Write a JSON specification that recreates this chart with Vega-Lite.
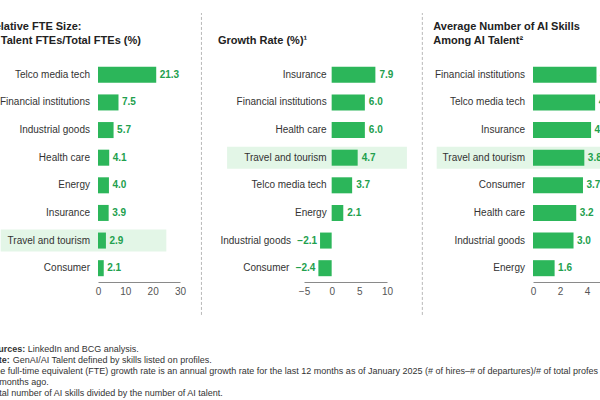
{
  "$schema": "https://vega.github.io/schema/vega-lite/v6.json",
  "padding": {"left": -14, "top": 12, "right": 0, "bottom": 0},
  "datasets": {
    "fte": [
      {"sector": "Telco media tech", "value": 21.3},
      {"sector": "Financial institutions", "value": 7.5},
      {"sector": "Industrial goods", "value": 5.7},
      {"sector": "Health care", "value": 4.1},
      {"sector": "Energy", "value": 4.0},
      {"sector": "Insurance", "value": 3.9},
      {"sector": "Travel and tourism", "value": 2.9},
      {"sector": "Consumer", "value": 2.1}
    ],
    "growth": [
      {"sector": "Insurance", "value": 7.9},
      {"sector": "Financial institutions", "value": 6.0},
      {"sector": "Health care", "value": 6.0},
      {"sector": "Travel and tourism", "value": 4.7},
      {"sector": "Telco media tech", "value": 3.7},
      {"sector": "Energy", "value": 2.1},
      {"sector": "Industrial goods", "value": -2.1},
      {"sector": "Consumer", "value": -2.4}
    ],
    "skills": [
      {"sector": "Financial institutions", "value": 4.7},
      {"sector": "Telco media tech", "value": 4.6},
      {"sector": "Insurance", "value": 4.3},
      {"sector": "Travel and tourism", "value": 3.8},
      {"sector": "Consumer", "value": 3.7},
      {"sector": "Health care", "value": 3.2},
      {"sector": "Industrial goods", "value": 3.0},
      {"sector": "Energy", "value": 1.6}
    ],
    "notes": [
      {"line": 1, "bold": "Sources:", "rest": "LinkedIn and BCG analysis."},
      {"line": 2, "bold": "Note:", "rest": "GenAI/AI Talent defined by skills listed on profiles."},
      {"line": 3, "rest": "¹The full-time equivalent (FTE) growth rate is an annual growth rate for the last 12 months as of January 2025 (# of hires–# of departures)/# of total professionals"},
      {"line": 4, "rest": "12 months ago."},
      {"line": 5, "rest": "²Total number of AI skills divided by the number of AI talent."}
    ]
  },
  "vconcat": [
    {
      "hconcat": [
        {
          "width": 82, "height": 221,
          "title": {"text": ["Relative FTE Size:", "AI Talent FTEs/Total FTEs (%)"], "dx": -111.3},
          "data": {"name": "fte"},
          "encoding": {
            "y": {"field": "sector", "type": "nominal", "axis": null,
                  "scale": {"domain": ["Telco media tech", "Financial institutions", "Industrial goods", "Health care", "Energy", "Insurance", "Travel and tourism", "Consumer"], "paddingInner": 0, "paddingOuter": 0}},
            "x": {"field": "value", "type": "quantitative", "scale": {"domain": [0, 30], "nice": false}, "axis": {"values": [0, 10, 20, 30], "title": null, "labelOverlap": false, "labelFlush": false}}
          },
          "layer": [
            {"transform": [{"filter": "datum.sector === 'Travel and tourism'"}],
             "mark": {"type": "bar", "color": "#e3f6e7", "height": {"band": 0.8}},
             "encoding": {"x": {"datum": -35.6, "type": "quantitative"}, "x2": {"datum": 25}}},
            {"mark": {"type": "bar", "color": "#2cb65a", "height": {"band": 0.58}}},
            {"mark": {"type": "text", "align": "left", "dx": 3.5, "fontWeight": "bold", "color": "#22a04d", "fontSize": 10},
             "encoding": {"text": {"field": "value", "type": "quantitative", "format": ".1f"}}},
            {"mark": {"type": "text", "align": "right", "dx": -8, "color": "#333333", "fontSize": 10},
             "encoding": {"x": {"datum": 0, "type": "quantitative"}, "text": {"field": "sector"}}},
            {"mark": {"type": "rule", "color": "#8a8a8a", "strokeWidth": 1},
             "encoding": {"x": {"datum": 0, "type": "quantitative"}}}
          ]
        },
        {
          "width": 124, "height": 221,
          "data": {"values": [{"divider": 1}]},
          "mark": {"type": "rule", "color": "#b8b8b8", "strokeDash": [3, 2], "strokeWidth": 1},
          "encoding": {
            "x": {"datum": 0.173, "type": "quantitative", "scale": {"domain": [0, 1]}, "axis": null},
            "y": {"datum": -0.149, "type": "quantitative", "scale": {"domain": [0, 1]}, "axis": null},
            "y2": {"datum": 1.217}
          }
        },
        {
          "width": 83, "height": 221,
          "title": {"text": "Growth Rate (%)¹", "dx": -86},
          "data": {"name": "growth"},
          "encoding": {
            "y": {"field": "sector", "type": "nominal", "axis": null,
                  "scale": {"domain": ["Insurance", "Financial institutions", "Health care", "Travel and tourism", "Telco media tech", "Energy", "Industrial goods", "Consumer"], "paddingInner": 0, "paddingOuter": 0}},
            "x": {"field": "value", "type": "quantitative", "scale": {"domain": [-5, 10], "nice": false}, "axis": {"values": [-5, 0, 5, 10], "title": null, "labelOverlap": false, "labelFlush": false}}
          },
          "layer": [
            {"transform": [{"filter": "datum.sector === 'Travel and tourism'"}],
             "mark": {"type": "bar", "color": "#e3f6e7", "height": {"band": 0.8}},
             "encoding": {"x": {"datum": -18.9, "type": "quantitative"}, "x2": {"datum": 13.6}}},
            {"mark": {"type": "bar", "color": "#2cb65a", "height": {"band": 0.58}}},
            {"transform": [{"filter": "datum.value >= 0"}],
             "mark": {"type": "text", "align": "left", "dx": 4, "fontWeight": "bold", "color": "#22a04d", "fontSize": 10},
             "encoding": {"text": {"field": "value", "type": "quantitative", "format": ".1f"}}},
            {"transform": [{"filter": "datum.value < 0"}],
             "mark": {"type": "text", "align": "right", "dx": -3, "fontWeight": "bold", "color": "#22a04d", "fontSize": 10},
             "encoding": {"text": {"field": "value", "type": "quantitative", "format": ".1f"}}},
            {"transform": [{"filter": "datum.value >= 0"}],
             "mark": {"type": "text", "align": "right", "dx": -5, "color": "#333333", "fontSize": 10},
             "encoding": {"x": {"datum": 0, "type": "quantitative"}, "text": {"field": "sector"}}},
            {"transform": [{"filter": "datum.value < 0"}],
             "mark": {"type": "text", "align": "right", "dx": -29, "color": "#333333", "fontSize": 10},
             "encoding": {"text": {"field": "sector"}}},
            {"mark": {"type": "rule", "color": "#8a8a8a", "strokeWidth": 1},
             "encoding": {"x": {"datum": 0, "type": "quantitative"}}}
          ]
        },
        {
          "width": 146, "height": 221,
          "data": {"values": [{"divider": 2}]},
          "mark": {"type": "rule", "color": "#b8b8b8", "strokeDash": [3, 2], "strokeWidth": 1},
          "encoding": {
            "x": {"datum": 0.242, "type": "quantitative", "scale": {"domain": [0, 1]}, "axis": null},
            "y": {"datum": -0.149, "type": "quantitative", "scale": {"domain": [0, 1]}, "axis": null},
            "y2": {"datum": 1.217}
          }
        },
        {
          "width": 67, "height": 221,
          "title": {"text": ["Average Number of AI Skills", "Among AI Talent²"], "dx": -99.7},
          "data": {"name": "skills"},
          "encoding": {
            "y": {"field": "sector", "type": "nominal", "axis": null,
                  "scale": {"domain": ["Financial institutions", "Telco media tech", "Insurance", "Travel and tourism", "Consumer", "Health care", "Industrial goods", "Energy"], "paddingInner": 0, "paddingOuter": 0}},
            "x": {"field": "value", "type": "quantitative", "scale": {"domain": [0, 4.96], "nice": false}, "axis": {"values": [0, 2, 4], "title": null, "labelOverlap": false, "labelFlush": false}}
          },
          "layer": [
            {"transform": [{"filter": "datum.sector === 'Travel and tourism'"}],
             "mark": {"type": "bar", "color": "#e3f6e7", "height": {"band": 0.8}},
             "encoding": {"x": {"datum": -7.13, "type": "quantitative"}, "x2": {"datum": 4.96}}},
            {"mark": {"type": "bar", "color": "#2cb65a", "height": {"band": 0.58}, "clip": true}},
            {"mark": {"type": "text", "align": "left", "dx": 3.5, "fontWeight": "bold", "color": "#22a04d", "fontSize": 10, "clip": true},
             "encoding": {"text": {"field": "value", "type": "quantitative", "format": ".1f"}}},
            {"mark": {"type": "text", "align": "right", "dx": -8, "color": "#333333", "fontSize": 10},
             "encoding": {"x": {"datum": 0, "type": "quantitative"}, "text": {"field": "sector"}}},
            {"mark": {"type": "rule", "color": "#8a8a8a", "strokeWidth": 1},
             "encoding": {"x": {"datum": 0, "type": "quantitative"}}}
          ]
        }
      ],
      "spacing": 0,
      "bounds": "flush"
    },
    {
      "width": 502, "height": 55,
      "data": {"name": "notes"},
      "encoding": {
        "y": {"field": "line", "type": "ordinal", "axis": null, "scale": {"domain": [1, 2, 3, 4, 5], "paddingInner": 0, "paddingOuter": 0}},
        "x": {"datum": -0.2217, "type": "quantitative", "axis": null, "scale": {"domain": [0, 1]}}
      },
      "layer": [
        {"transform": [{"filter": "datum.bold"}],
         "mark": {"type": "text", "align": "left", "fontSize": 9, "fontWeight": "bold", "color": "#333333"},
         "encoding": {"text": {"field": "bold"}}},
        {"transform": [{"filter": "datum.line === 1"}],
         "mark": {"type": "text", "align": "left", "dx": 41, "fontSize": 9, "color": "#333333"},
         "encoding": {"text": {"field": "rest"}}},
        {"transform": [{"filter": "datum.line === 2"}],
         "mark": {"type": "text", "align": "left", "dx": 26, "fontSize": 9, "color": "#333333"},
         "encoding": {"text": {"field": "rest"}}},
        {"transform": [{"filter": "datum.line > 2"}],
         "mark": {"type": "text", "align": "left", "fontSize": 9, "color": "#333333", "limit": 613, "ellipsis": "\u200b"},
         "encoding": {"text": {"field": "rest"}}}
      ]
    }
  ],
  "spacing": 27.5,
  "config": {
    "view": {"stroke": null},
    "font": "Liberation Sans",
    "title": {"anchor": "start", "frame": "group", "fontSize": 11, "fontWeight": "bold", "color": "#222222", "lineHeight": 14, "offset": 15},
    "axisX": {"ticks": false, "domainColor": "#8a8a8a", "labelColor": "#555555", "labelFontSize": 10, "labelPadding": 4, "labelFlush": false, "labelOverlap": false, "grid": false}
  }
}
